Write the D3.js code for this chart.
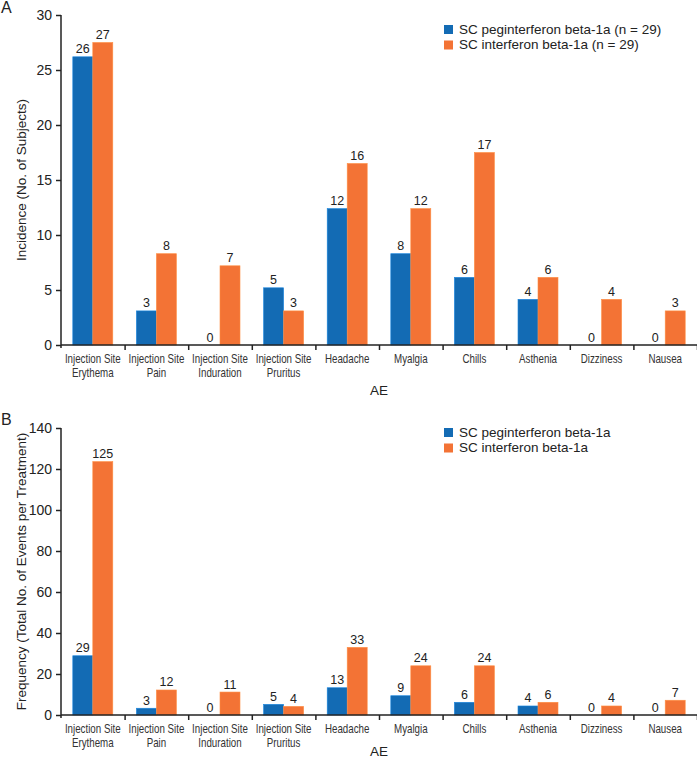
<!DOCTYPE html>
<html>
<head>
<meta charset="utf-8">
<script src="https://cdn.jsdelivr.net/npm/d3@7"></script>
<style>
  body { margin: 0; background: #fff; }
  svg { display: block; font-family: "Liberation Sans", Arial, sans-serif; }
  .domain, .tick line { stroke: #222; stroke-width: 1.5; }
  .tick text { font-size: 14px; fill: #222; }
  .cat { font-size: 13px; fill: #333; }
</style>
</head>
<body>
<script>
var width = 697,
    height = 759;

// categories (line breaks as in the figure)
var categories = ["Injection Site\nErythema", "Injection Site\nPain", "Injection Site\nInduration",
  "Injection Site\nPruritus", "Headache", "Myalgia", "Chills", "Asthenia", "Dizziness", "Nausea"];

var colors = ["#136bb4", "#f37335"];

// panel A: incidence (bar heights as drawn, printed labels)
var seriesA = ["SC peginterferon beta-1a (n = 29)", "SC interferon beta-1a (n = 29)"];
var incidencePeg = [26.2, 3.1, 0, 5.2, 12.4, 8.3, 6.15, 4.15, 0, 0];
var incidenceIfn = [27.5, 8.3, 7.2, 3.1, 16.5, 12.4, 17.5, 6.15, 4.15, 3.1];
var incidencePegLabels = [26, 3, 0, 5, 12, 8, 6, 4, 0, 0];
var incidenceIfnLabels = [27, 8, 7, 3, 16, 12, 17, 6, 4, 3];
var ticksA = [0, 5, 10, 15, 20, 25, 30];

// panel B: frequency
var seriesB = ["SC peginterferon beta-1a", "SC interferon beta-1a"];
var frequencyPeg = [28.9, 3.3, 0, 5.2, 13.3, 9.4, 6.2, 4.4, 0, 0];
var frequencyIfn = [123.6, 12.2, 11.2, 4.2, 33, 24, 24, 6.2, 4.4, 7.2];
var frequencyPegLabels = [29, 3, 0, 5, 13, 9, 6, 4, 0, 0];
var frequencyIfnLabels = [125, 12, 11, 4, 33, 24, 24, 6, 4, 7];
var ticksB = [0, 20, 40, 60, 80, 100, 120, 140];

var svg = d3.select("body").append("svg")
    .attr("width", width)
    .attr("height", height);

drawPanel({
  letter: "A", letterY: 13,
  top: 15, bottom: 345, max: 30, ticks: ticksA,
  yLabel: "Incidence (No. of Subjects)",
  series: seriesA, legendY: 25,
  values: [incidencePeg, incidenceIfn],
  labels: [incidencePegLabels, incidenceIfnLabels],
  aeY: 395
});

drawPanel({
  letter: "B", letterY: 425,
  top: 428, bottom: 715, max: 140, ticks: ticksB,
  yLabel: "Frequency (Total No. of Events per Treatment)",
  series: seriesB, legendY: 428,
  values: [frequencyPeg, frequencyIfn],
  labels: [frequencyPegLabels, frequencyIfnLabels],
  aeY: 756
});

function drawPanel(p) {
  var left = 61, right = 697;
  var g = svg.append("g");

  var y = d3.scaleLinear().domain([0, p.max]).range([p.bottom, p.top]);
  var x = d3.scaleBand().domain(categories).range([left, right]);
  var bw = x.bandwidth();
  var x1 = d3.scaleBand().domain([0, 1]).range([bw / 2 - 20, bw / 2 + 20]);
  var xLin = d3.scaleLinear().domain([0, categories.length]).range([left, right]);

  var rows = categories.map(function(c, i) {
    return { cat: c, vals: p.values.map(function(v, k) { return { k: k, v: v[i], lab: p.labels[k][i] }; }) };
  });

  var groups = g.selectAll(".grp")
    .data(rows)
    .enter().append("g")
    .attr("transform", function(d) { return "translate(" + x(d.cat) + ",0)"; });

  groups.selectAll("rect")
    .data(function(d) { return d.vals; })
    .enter().append("rect")
    .attr("x", function(d) { return x1(d.k); })
    .attr("width", x1.bandwidth())
    .attr("y", function(d) { return y(d.v); })
    .attr("height", function(d) { return y(0) - y(d.v); })
    .attr("fill", function(d) { return colors[d.k]; })
    .attr("stroke", function(d) { return d3.rgb(colors[d.k]).brighter(0.6); })
    .attr("stroke-width", 0.6);

  groups.selectAll(".val")
    .data(function(d) { return d.vals; })
    .enter().append("text")
    .attr("class", "val")
    .attr("x", function(d) { return x1(d.k) + x1.bandwidth() / 2; })
    .attr("y", function(d) { return y(d.v) - 3.5; })
    .attr("text-anchor", "middle")
    .attr("font-size", 12.5)
    .attr("fill", "#222")
    .text(function(d) { return d.lab; });

  // y axis
  g.append("g")
    .attr("transform", "translate(" + left + ",0)")
    .call(d3.axisLeft(y).tickValues(p.ticks).tickSize(5).tickPadding(4))
    .call(function(s) { s.select(".domain").attr("d", "M0," + p.top + "V" + (p.bottom + 3)); });

  // x axis (separators between categories)
  g.append("g")
    .attr("transform", "translate(0," + p.bottom + ")")
    .call(d3.axisBottom(xLin).tickValues(d3.range(1, categories.length + 1)).tickSize(5).tickFormat(""))
    .call(function(s) { s.select(".domain").attr("d", "M" + left + ",0H" + right); });

  // category labels, condensed like the original narrow face
  var cl = g.selectAll(".cat")
    .data(categories)
    .enter().append("text")
    .attr("class", "cat")
    .attr("text-anchor", "middle")
    .attr("transform", function(d) { return "translate(" + (x(d) + bw / 2) + "," + (p.bottom + 18) + ") scale(0.75,1)"; });
  cl.selectAll("tspan")
    .data(function(d) { return d.split("\n"); })
    .enter().append("tspan")
    .attr("x", 0)
    .attr("dy", function(d, i) { return i ? 14.5 : 0; })
    .text(function(d) { return d; });

  g.append("text")
    .attr("x", (left + right) / 2)
    .attr("y", p.aeY)
    .attr("text-anchor", "middle")
    .attr("font-size", 13.5)
    .attr("fill", "#222")
    .text("AE");

  g.append("text")
    .attr("transform", "translate(26," + (p.top + p.bottom) / 2 + ") rotate(-90)")
    .attr("text-anchor", "middle")
    .attr("font-size", 13.5)
    .attr("fill", "#222")
    .text(p.yLabel);

  g.append("text")
    .attr("x", 1)
    .attr("y", p.letterY)
    .attr("font-size", 16)
    .attr("fill", "#222")
    .text(p.letter);

  // legend
  var leg = g.selectAll(".leg")
    .data(p.series)
    .enter().append("g")
    .attr("transform", function(d, i) { return "translate(444," + (p.legendY + i * 15.5) + ")"; });
  leg.append("rect")
    .attr("width", 9)
    .attr("height", 9)
    .attr("fill", function(d, i) { return colors[i]; });
  leg.append("text")
    .attr("x", 15)
    .attr("y", 8.5)
    .attr("font-size", 13.5)
    .attr("fill", "#222")
    .text(function(d) { return d; });
}
</script>
</body>
</html>
